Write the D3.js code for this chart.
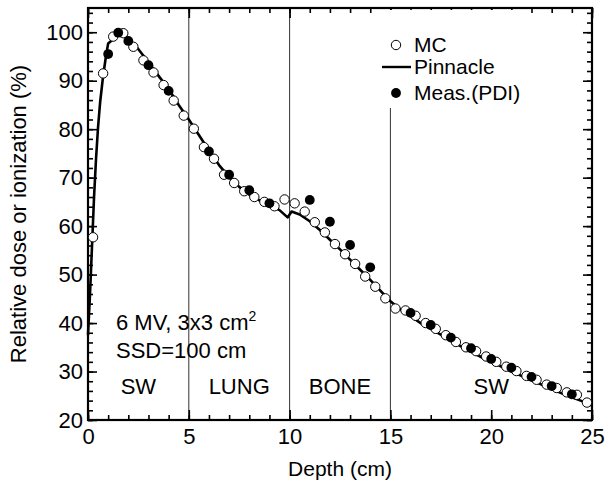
<!DOCTYPE html>
<html>
<head>
<meta charset="utf-8">
<script src="https://cdn.jsdelivr.net/npm/d3@7"></script>
<style>
    body { margin: 0; background: #fff; }
    text { font-family: "Liberation Sans", Arial, sans-serif; fill: #000; }
    .axis path { display: none; }
    .axis line { stroke: #000; stroke-width: 1.6; }
</style>
</head>
<body>
<div id="chart"></div>
<script>
// Monte Carlo (open circles)
let mcDepth = [0.25, 0.75, 1.25, 1.75, 2.25, 2.75, 3.25, 3.75, 4.25, 4.75,
    5.25, 5.75, 6.25, 6.75, 7.25, 7.75, 8.25, 8.75, 9.25, 9.75,
    10.25, 10.75, 11.25, 11.75, 12.25, 12.75, 13.25, 13.75, 14.25, 14.75,
    15.25, 15.75, 16.25, 16.75, 17.25, 17.75, 18.25, 18.75, 19.25, 19.75,
    20.25, 20.75, 21.25, 21.75, 22.25, 22.75, 23.25, 23.75, 24.25, 24.75];
let mcDose = [57.7, 91.5, 99.1, 99.8, 97.0, 94.2, 91.7, 89.1, 85.9, 82.8,
    80.1, 76.3, 73.9, 70.6, 68.9, 67.2, 66.0, 65.0, 64.1, 65.5,
    64.7, 63.0, 60.8, 58.7, 56.3, 54.2, 52.2, 49.6, 47.5, 45.1,
    43.0, 42.6, 41.5, 40.0, 38.8, 37.5, 36.1, 35.0, 34.2, 33.1,
    32.0, 31.0, 30.1, 29.1, 28.3, 27.3, 26.6, 25.7, 25.2, 23.6];

// Pinnacle calculation (solid line)
let pinDepth = [0, 0.1, 0.2, 0.3, 0.4, 0.5, 0.6, 0.75, 0.9, 1.0, 1.2, 1.45, 1.7, 2.0,
    2.5, 3.0, 3.5, 4.0, 4.5, 5.0, 5.5, 6.0, 6.5, 7.0, 7.5, 8.0, 8.5, 9.0, 9.5, 9.9,
    10.1, 10.5, 11.0, 11.5, 12.0, 12.5, 13.0, 13.5, 14.0, 14.5, 15.0, 15.5, 16.0,
    16.5, 17.0, 17.5, 18.0, 18.5, 19.0, 19.5, 20.0, 20.5, 21.0, 21.5, 22.0, 22.5,
    23.0, 23.5, 24.0, 24.5, 25.0];
let pinDose = [37.5, 46, 56, 66, 74, 80.5, 85.5, 91, 95.3, 97.7, 98.4, 100, 99.8, 98.6,
    96.5, 93.8, 91.0, 88.3, 85.0, 82.0, 78.8, 75.6, 72.6, 70.1, 68.1, 66.5, 65.3, 64.3, 63.3, 61.8,
    63.0, 62.4, 61.0, 59.2, 57.2, 55.2, 53.1, 51.0, 48.9, 46.7, 44.5, 42.8, 41.4,
    40.0, 38.8, 37.6, 36.4, 35.2, 34.1, 33.0, 32.0, 31.0, 30.0, 29.1, 28.2, 27.3,
    26.4, 25.5, 24.7, 23.9, 23.0];

// Measurement (PDI, filled circles)
let measDepth = [1, 1.5, 2, 3, 4, 6, 7, 8, 9, 11, 12, 13, 14, 16, 17, 18, 19, 20, 21, 22, 23, 24];
let measDose = [95.5, 99.9, 98.2, 93.2, 87.9, 75.4, 70.6, 67.4, 64.7, 65.4, 60.9, 56.1, 51.5,
    42.1, 39.6, 37.0, 34.8, 32.6, 30.8, 28.9, 27.0, 25.3];

let xMajor = [0, 5, 10, 15, 20, 25];
let yMajor = [20, 30, 40, 50, 60, 70, 80, 90, 100];
let boundaries = [5, 10, 15];
let regionNames = ["SW", "LUNG", "BONE", "SW"];
let regionCenters = [2.5, 7.5, 12.5, 20];
let legendNames = ["MC", "Pinnacle", "Meas.(PDI)"];

let margin = {top: 8, right: 14, bottom: 68, left: 88};
let width = 606 - margin.left - margin.right;
let height = 488 - margin.top - margin.bottom;

let svg = d3.select("#chart").append("svg")
    .attr("width", 606)
    .attr("height", 488)
    .append("g")
    .attr("transform", "translate(" + margin.left + "," + margin.top + ")");

let x = d3.scaleLinear().domain([0, 25]).range([0, width]);
let y = d3.scaleLinear().domain([20, 105]).range([height, 0]);

// Region boundaries
svg.selectAll(".boundary")
    .data(boundaries)
    .enter().append("line")
    .attr("class", "boundary")
    .attr("x1", d => x(d)).attr("x2", d => x(d))
    .attr("y1", 0).attr("y2", height)
    .attr("stroke", "#333")
    .attr("stroke-width", 1);

// Minor + major ticks on all four sides (pointing inward)
svg.append("g").attr("class", "axis")
    .attr("transform", "translate(0," + height + ")")
    .call(d3.axisBottom(x).tickValues(d3.range(0, 26, 1)).tickSize(-5).tickFormat(""));
svg.append("g").attr("class", "axis x-axis")
    .attr("transform", "translate(0," + height + ")")
    .call(d3.axisBottom(x).tickValues(xMajor).tickSize(-10).tickPadding(8));
svg.append("g").attr("class", "axis")
    .call(d3.axisTop(x).tickValues(d3.range(0, 26, 1)).tickSize(-5).tickFormat(""));
svg.append("g").attr("class", "axis")
    .call(d3.axisTop(x).tickValues(xMajor).tickSize(-10).tickFormat(""));

svg.append("g").attr("class", "axis")
    .call(d3.axisLeft(y).tickValues(d3.range(20, 105, 2)).tickSize(-5).tickFormat(""));
svg.append("g").attr("class", "axis y-axis")
    .call(d3.axisLeft(y).tickValues(yMajor).tickSize(-9).tickPadding(5));
svg.append("g").attr("class", "axis")
    .attr("transform", "translate(" + width + ",0)")
    .call(d3.axisRight(y).tickValues(d3.range(20, 105, 2)).tickSize(-5).tickFormat(""));
svg.append("g").attr("class", "axis")
    .attr("transform", "translate(" + width + ",0)")
    .call(d3.axisRight(y).tickValues(yMajor).tickSize(-9).tickFormat(""));

svg.selectAll(".x-axis text, .y-axis text")
    .attr("font-size", 22)
    .attr("font-family", "Liberation Sans, Arial, sans-serif");

// Frame
svg.append("rect")
    .attr("width", width)
    .attr("height", height)
    .attr("fill", "none")
    .attr("stroke", "#000")
    .attr("stroke-width", 2.2);

// Pinnacle line
let line = d3.line()
    .x((d, i) => x(pinDepth[i]))
    .y(d => y(d));

svg.append("path")
    .datum(pinDose)
    .attr("d", line)
    .attr("fill", "none")
    .attr("stroke", "#000")
    .attr("stroke-width", 2.6)
    .attr("stroke-linejoin", "round");

// MC points
svg.selectAll(".mc")
    .data(mcDose)
    .enter().append("circle")
    .attr("class", "mc")
    .attr("cx", (d, i) => x(mcDepth[i]))
    .attr("cy", d => y(d))
    .attr("r", 4.7)
    .attr("fill", "#fff")
    .attr("stroke", "#000")
    .attr("stroke-width", 1);

// Measured points
svg.selectAll(".meas")
    .data(measDose)
    .enter().append("circle")
    .attr("class", "meas")
    .attr("cx", (d, i) => x(measDepth[i]))
    .attr("cy", d => y(d))
    .attr("r", 4.9)
    .attr("fill", "#000");

// Region labels
svg.selectAll(".region")
    .data(regionNames)
    .enter().append("text")
    .attr("class", "region")
    .attr("x", (d, i) => x(regionCenters[i]))
    .attr("y", y(25.4))
    .attr("text-anchor", "middle")
    .attr("font-size", 22)
    .text(d => d);

// Beam annotation
let note = svg.append("text")
    .attr("x", 28)
    .attr("y", y(38.6))
    .attr("font-size", 22);
note.append("tspan").text("6 MV, 3x3 cm");
note.append("tspan").attr("dy", -9).attr("font-size", 14).text("2");
svg.append("text")
    .attr("x", 28)
    .attr("y", y(32.8))
    .attr("font-size", 22)
    .text("SSD=100 cm");

// Legend (white box hides the 15 cm boundary behind it)
let legendX = 308;
let legendY = [37, 59, 85];
svg.append("rect")
    .attr("x", legendX - 16).attr("y", 2)
    .attr("width", 150).attr("height", 98)
    .attr("fill", "#fff");
svg.append("circle")
    .attr("cx", legendX).attr("cy", legendY[0])
    .attr("r", 4.7).attr("fill", "#fff").attr("stroke", "#000");
svg.append("line")
    .attr("x1", legendX - 14).attr("x2", legendX + 15)
    .attr("y1", legendY[1]).attr("y2", legendY[1])
    .attr("stroke", "#000").attr("stroke-width", 2.4);
svg.append("circle")
    .attr("cx", legendX).attr("cy", legendY[2])
    .attr("r", 4.9).attr("fill", "#000");
svg.selectAll(".legend-text")
    .data(legendNames)
    .enter().append("text")
    .attr("class", "legend-text")
    .attr("x", legendX + 18)
    .attr("y", (d, i) => legendY[i] + 7)
    .attr("font-size", 21)
    .text(d => d);

// Axis titles
svg.append("text")
    .attr("x", width / 2)
    .attr("y", height + 56)
    .attr("text-anchor", "middle")
    .attr("font-size", 21)
    .text("Depth (cm)");

svg.append("text")
    .attr("transform", "translate(" + (-62) + "," + (height / 2) + ") rotate(-90)")
    .attr("text-anchor", "middle")
    .attr("font-size", 22)
    .text("Relative dose or ionization (%)");
</script>
</body>
</html>
